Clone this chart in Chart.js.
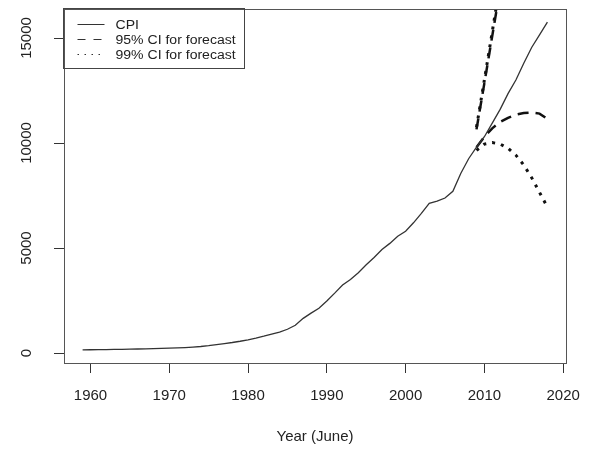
<!DOCTYPE html>
<html>
<head>
<meta charset="utf-8">
<script src="https://cdn.jsdelivr.net/npm/chart.js@4/dist/chart.umd.min.js"></script>
<style>
  html, body { margin: 0; padding: 0; background: #fff; }
  #wrap { width: 597px; height: 455px; }
</style>
</head>
<body>
<div id="wrap"><canvas id="cpi" width="597" height="455"></canvas></div>
<script>
const FONT = '"Liberation Sans", Arial, sans-serif'

// CPI series (June of each year)
const years = [
  1959, 1960, 1961, 1962, 1963, 1964, 1965, 1966, 1967, 1968,
  1969, 1970, 1971, 1972, 1973, 1974, 1975, 1976, 1977, 1978,
  1979, 1980, 1981, 1982, 1983, 1984, 1985, 1986, 1987, 1988,
  1989, 1990, 1991, 1992, 1993, 1994, 1995, 1996, 1997, 1998,
  1999, 2000, 2001, 2002, 2003, 2004, 2005, 2006, 2007, 2008,
  2009, 2010, 2011, 2012, 2013, 2014, 2015, 2016, 2017, 2018,
]
const cpi = [
  150, 155, 160, 165, 170, 175, 182, 190, 198, 207,
  217, 228, 242, 258, 280, 310, 350, 400, 450, 500,
  560, 630, 710, 800, 900, 1000, 1130, 1320, 1650, 1900,
  2130, 2480, 2850, 3240, 3500, 3820, 4200, 4550, 4930, 5220,
  5560, 5800, 6200, 6650, 7130, 7230, 7380, 7700, 8550, 9250,
  9800, 10300, 10950, 11600, 12350, 13000, 13800, 14550, 15150, 15760,
]

// forecast intervals
const fcYears = [2009, 2010, 2011, 2012, 2013, 2014, 2015, 2016, 2017, 2018]
const lower95 = [9800, 10300, 10700, 11000, 11200, 11350, 11430, 11450, 11400, 11150]
const lower99 = [9650, 9950, 10020, 9950, 9750, 9420, 8950, 8350, 7650, 6950]
const upYears = [2009, 2010, 2011, 2012]
const upper95 = [10650, 12850, 15100, 17350]
const upper99 = [10750, 13000, 15300, 17600]

const xTicks = [1960, 1970, 1980, 1990, 2000, 2010, 2020]
const yTicks = [0, 5000, 10000, 15000]

const pts = (xs, ys) => xs.map((x, i) => ({ x, y: ys[i] }))

const DASH95 = [11, 7]
const DOT99 = [3, 6]

// box round the plot + R style legend in the top left corner
const frameAndLegend = {
  id: 'frameAndLegend',
  afterDraw(chart) {
    const { ctx, chartArea: a } = chart
    ctx.save()
    ctx.strokeStyle = '#555'
    ctx.lineWidth = 1
    ctx.strokeRect(Math.round(a.left) + 0.5, Math.round(a.top) + 0.5,
      Math.round(a.right - a.left), Math.round(a.bottom - a.top))

    const items = chart.data.datasets.filter(d => d.inLegend)
    const bx = Math.round(a.left) + 0.5
    const by = Math.round(a.top) + 0.5
    ctx.strokeStyle = '#444'
    ctx.strokeRect(bx - 1, by - 1, 181, 60)
    ctx.font = '12px ' + FONT
    ctx.textBaseline = 'middle'
    ctx.textAlign = 'left'
    items.forEach((d, i) => {
      const y = by + 15 + i * 15
      ctx.beginPath()
      ctx.setLineDash(d.legendDash)
      ctx.lineWidth = 1
      ctx.strokeStyle = '#333'
      ctx.moveTo(bx + 13, y)
      ctx.lineTo(bx + 40, y)
      ctx.stroke()
      ctx.setLineDash([])
      ctx.fillStyle = '#222'
      // the source picture is a bit wider than tall, stretch text to match
      ctx.save()
      ctx.translate(bx + 51, y + 1)
      ctx.scale(1.17, 1)
      ctx.fillText(d.label, 0, 0)
      ctx.restore()
    })
    ctx.restore()
  },
}

new Chart(document.getElementById('cpi'), {
  type: 'line',
  data: {
    datasets: [
      {
        label: 'CPI', data: pts(years, cpi), inLegend: true, legendDash: [],
        borderColor: '#333', borderWidth: 1.3,
      },
      {
        label: '95% CI for forecast', data: pts(upYears, upper95), inLegend: true, legendDash: [8, 8],
        borderColor: '#111', borderWidth: 2.5, borderDash: DASH95,
      },
      {
        label: '95% CI for forecast', data: pts(fcYears, lower95),
        borderColor: '#111', borderWidth: 2.5, borderDash: DASH95,
      },
      {
        label: '99% CI for forecast', data: pts(upYears, upper99), inLegend: true, legendDash: [1.5, 5.5],
        borderColor: '#111', borderWidth: 3, borderDash: DOT99,
      },
      {
        label: '99% CI for forecast', data: pts(fcYears, lower99),
        borderColor: '#111', borderWidth: 3, borderDash: DOT99,
      },
    ],
  },
  options: {
    responsive: false,
    animation: false,
    devicePixelRatio: 1,
    layout: { padding: { left: 0, right: 31, top: 9, bottom: 0 } },
    elements: { point: { radius: 0 }, line: { tension: 0, fill: false } },
    plugins: { legend: { display: false }, tooltip: { enabled: false } },
    scales: {
      x: {
        type: 'linear',
        min: 1956.64,
        max: 2020.36,
        afterBuildTicks: s => { s.ticks = xTicks.map(v => ({ value: v })) },
        afterFit: s => { s.height = 92; s.paddingLeft = 0; s.paddingRight = 0 },
        grid: { drawOnChartArea: false, tickLength: 10, tickColor: '#333', tickWidth: 1 },
        border: { display: true, color: '#555', width: 1 },
        ticks: {
          autoSkip: false, maxRotation: 0, padding: 14, color: '#222',
          font: { family: FONT, size: 15 },
          callback: v => String(v),
        },
        title: {
          display: true, text: 'Year (June)', color: '#222',
          font: { family: FONT, size: 15 }, padding: { top: 4, bottom: 9 },
        },
      },
      y: {
        type: 'linear',
        min: -476,
        max: 16381,
        afterBuildTicks: s => { s.ticks = yTicks.map(v => ({ value: v })) },
        afterFit: s => { s.width = 64; s.paddingTop = 0; s.paddingBottom = 0 },
        grid: { drawOnChartArea: false, tickLength: 10, tickColor: '#333', tickWidth: 1 },
        border: { display: true, color: '#555', width: 1 },
        ticks: {
          autoSkip: false, minRotation: 90, maxRotation: 90, crossAlign: 'center',
          padding: 6, color: '#222', font: { family: FONT, size: 15 },
          callback: v => String(v),
        },
      },
    },
  },
  plugins: [frameAndLegend],
})
</script>
</body>
</html>
